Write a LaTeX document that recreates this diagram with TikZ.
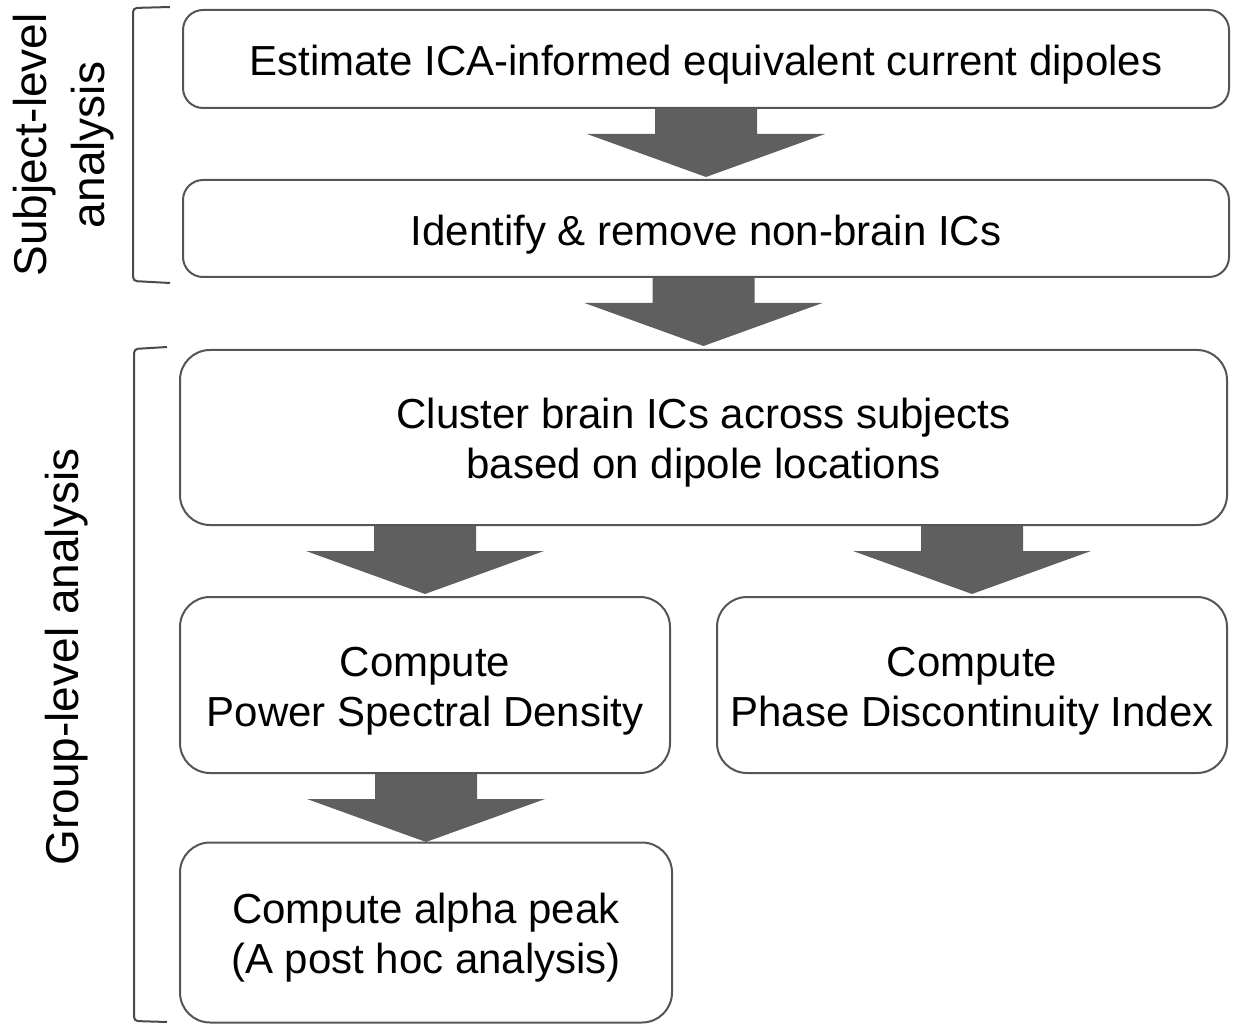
\documentclass[tikz,border=0pt]{standalone}
\usepackage{fontspec}
\setmainfont{Liberation Sans}
\usetikzlibrary{calc}

\definecolor{boxline}{HTML}{555555}
\definecolor{arrowfill}{HTML}{5F5F5F}
\definecolor{bracketline}{HTML}{4A4A4A}

% block arrow from the bottom of #1 down to the top of #2
\newcommand{\blockarrow}[2]{%
  \fill[arrowfill] ($(#2.north |- #1.south)+(-51,0)$) -- ++(102,0) -- ++(0,25)
    -- ++(68,0) -- ++(-119,43) -- ++(-119,-43) -- ++(68,0) -- cycle;}

\begin{document}
\begin{tikzpicture}[x=1pt, y=-1pt,
    stepbox/.style={draw=boxline, line width=2pt, rounded corners=30pt, inner sep=0pt,
      align=center, font=\fontsize{42}{50}\selectfont},
    oneline/.style={stepbox, rounded corners=20pt, text height=43pt, text depth=9pt},
    twoline/.style={stepbox, text height=91pt, text depth=9pt},
    sidelabel/.style={rotate=90, align=center, font=\fontsize{46}{58}\selectfont}]

    \useasboundingbox (0,0) rectangle (1235,1024);

    % Subject-level steps
    \node[oneline, minimum width=1046pt, minimum height=98pt] (estimate) at (706,59)
        {Estimate ICA-informed equivalent current dipoles};
    \node[oneline, minimum width=1046pt, minimum height=97pt] (identify) at (706,228.5)
        {Identify \& remove non-brain ICs};

    % Group-level steps
    \node[twoline, minimum width=1047pt, minimum height=175pt] (cluster) at (703.5,437.5)
        {Cluster brain ICs across subjects\\based on dipole locations};
    \node[twoline, minimum width=490pt, minimum height=176pt] (psd) at (425,685)
        {Compute\\Power Spectral Density};
    \node[twoline, minimum width=510pt, minimum height=176pt] (pdi) at (972,685)
        {Compute\\Phase Discontinuity Index};
    \node[twoline, minimum width=492pt, minimum height=180pt] (alpha) at (426,932.5)
        {Compute alpha peak\\(A post hoc analysis)};

    % Arrows between steps
    \blockarrow{estimate}{identify}
    \blockarrow{identify}{cluster}
    \blockarrow{cluster}{psd}
    \blockarrow{cluster}{pdi}
    \blockarrow{psd}{alpha}

    % Brackets and level labels
    \draw[bracketline, line width=2pt, rounded corners=4pt] (170,7) -- (133,8) -- (133,281) -- (170,283);
    \draw[bracketline, line width=2pt, rounded corners=4pt] (167,347) -- (134,349) -- (134,1021) -- (167,1022);

    \node[sidelabel] (subjectlevel) at (64,145) {Subject-level\\analysis};
    \node[sidelabel] (grouplevel) at (67,657) {Group-level analysis};

\end{tikzpicture}
\end{document}
